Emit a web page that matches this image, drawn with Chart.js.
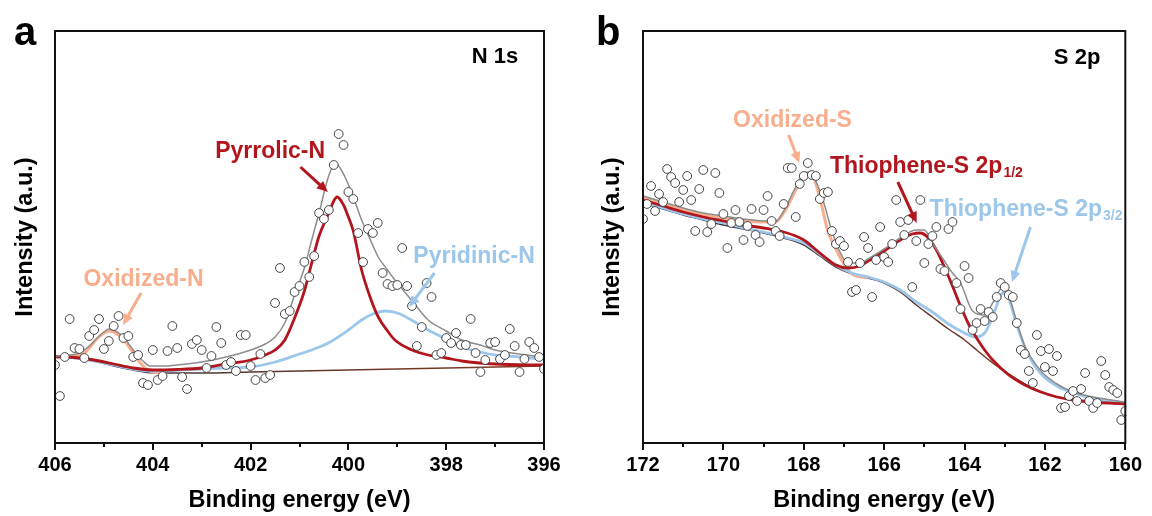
<!DOCTYPE html>
<html>
<head>
<meta charset="utf-8">
<script src="https://cdn.jsdelivr.net/npm/chart.js@4.4.1/dist/chart.umd.min.js"></script>
<style>
    html, body { margin: 0; padding: 0; background: #fff; }
    #wrap { position: relative; width: 1152px; height: 516px; }
    .panel { position: absolute; top: 0; width: 576px; height: 516px; }
    #pa { left: 0; }
    #pb { left: 576px; }
</style>
</head>
<body>
<div id="wrap">
    <div class="panel" id="pa"><canvas id="chartA" width="576" height="516"></canvas></div>
    <div class="panel" id="pb"><canvas id="chartB" width="576" height="516"></canvas></div>
</div>
<script>

// ---- N 1s (panel a) ----
// raw counts, one every 0.1 eV from 406.0 down to 396.0
const nCounts = [78, 47, 86, 124, 95, 94, 85, 107, 113, 124,
    94, 102, 117, 127, 105, 107, 86, 88, 60, 58,
    93, 63, 67, 92, 117, 95, 66, 54, 99, 103,
    93, 75, 87, 116, 100, 78, 81, 72, 108, 108,
    77, 63, 89, 65, 68, 140, 175, 129, 132, 151,
    157, 181, 166, 187, 230, 224, 233, 278, 309, 298,
    251, 244, 210, 181, 214, 210, 220, 170, 159, 157,
    158, 195, 157, 137, 97, 116, 160, 146, 88, 90,
    105, 100, 110, 98, 98, 124, 90, 71, 83, 100,
    101, 84, 88, 114, 97, 71, 84, 101, 95, 86, 74];

const nBgE = [406, 405.6, 405.2, 404.8, 404.4, 404.0, 403, 402, 401, 400, 399, 398, 397, 396];
const nBgI = [86, 85, 82, 77, 73, 70, 70, 71, 72, 73, 74, 75, 76, 77];

const nOxE = [406, 405.7, 405.5, 405.4, 405.3, 405.2, 405.1, 405.0, 404.9, 404.8, 404.7, 404.6, 404.5, 404.4, 404.3, 404.2, 404.1, 404.0, 403.8];
const nOxI = [86, 86.5, 88, 90, 95, 101, 106, 110, 112, 111, 108, 104, 97, 90, 83, 77, 73, 71, 70];

const nPyrroE = [406, 405.6, 405.2, 404.8, 404.4, 404.0, 403.5, 403.0, 402.5, 402.0, 401.7, 401.5, 401.3, 401.1, 400.9, 400.75, 400.6, 400.4, 400.3, 400.23, 400.1, 400.0, 399.9, 399.73, 399.55, 399.39, 399.2, 399.05, 398.7, 398.37, 398.0, 397.68, 397.0, 396.0];
const nPyrroI = [86.5, 85.5, 83, 79, 75, 73, 73.5, 75, 79, 83, 88, 93, 103, 125, 152, 180, 207, 230, 242, 246, 238, 226, 212, 173, 145, 126, 112, 103, 93, 88, 85, 82, 79, 78];

const nPyriE = [406, 405.6, 405.2, 404.8, 404.4, 404.0, 403.0, 402.5, 402.0, 401.5, 401.06, 400.7, 400.41, 400.0, 399.73, 399.5, 399.25, 399.0, 398.71, 398.37, 398.0, 397.68, 397.3, 397.0, 396.5, 396.0];
const nPyriI = [86.5, 85, 82, 78, 74, 72, 74, 75, 76, 81, 88, 94, 100, 113, 123, 129, 132, 130, 123, 113, 104, 96, 91, 88, 86, 84];

const nEnvE = [406, 405.7, 405.5, 405.3, 405.1, 405.0, 404.9, 404.8, 404.6, 404.4, 404.2, 404.06, 403.8, 403.5, 403.0, 402.5, 402.0, 401.7, 401.5, 401.3, 401.1, 400.9, 400.75, 400.6, 400.41, 400.27, 400.07, 399.9, 399.73, 399.55, 399.39, 399.2, 399.05, 398.71, 398.37, 398.0, 397.68, 397.3, 397.0, 396.5, 396.0];
const nEnvI = [86.5, 88, 90, 97, 107, 111, 114, 113, 106, 93, 82, 77, 77, 78, 81, 86, 93, 99, 106, 120, 148, 175, 203, 230, 266, 280, 266, 246, 223, 203, 186, 173, 163, 143, 123, 112, 103, 98, 93, 89, 86];

// ---- S 2p (panel b) ----
// raw counts, one every 0.1 eV from 172.0 down to 160.0
const sCounts = [224, 239, 257, 232, 249, 241, 274, 266, 260, 241,
    253, 267, 243, 212, 254, 273, 211, 219, 270, 250,
    229, 195, 220, 233, 221, 203, 217, 234, 208, 201,
    233, 247, 222, 212, 207, 239, 275, 275, 226, 259,
    267, 280, 268, 267, 244, 250, 251, 212, 199, 202,
    197, 181, 151, 153, 180, 206, 195, 146, 183, 216,
    186, 181, 199, 243, 221, 208, 223, 156, 202, 243,
    180, 199, 207, 216, 174, 172, 214, 221, 160, 134,
    177, 165, 113, 120, 134, 122, 131, 126, 146, 160,
    156, 148, 146, 120, 93, 89, 72, 60, 108, 92,
    76, 94, 72, 87, 35, 36, 47, 52, 42, 54,
    70, 42, 35, 40, 82, 68, 56, 53, 50, 23, 32];

const sBgE = [172, 171.5, 171, 170.5, 170, 169.5, 169, 168.5, 168, 167.6, 167.2, 166.8, 166.4, 166.0, 165.6, 165.2, 164.8, 164.4, 164.0, 163.7, 163.3, 162.9, 162.5, 162.1, 161.7, 161.3, 160.8, 160];
const sBgI = [240, 234, 228, 223, 218, 214, 210, 205, 198, 187, 176, 169, 165, 160, 151, 138, 126, 114, 103, 93, 80, 69, 59, 51, 46, 43, 41, 39];

const sOxE = [172, 171.5, 171, 170.5, 170, 169.5, 169, 168.7, 168.5, 168.3, 168.1, 168.0, 167.9, 167.75, 167.6, 167.4, 167.2, 167.0, 166.8, 166.4];
const sOxI = [245, 239, 233, 228, 225, 222, 221, 221, 230, 245, 261, 267, 269, 265, 245, 212, 194, 179, 169, 165];

const sHalfE = [172, 171.5, 171, 170.5, 170, 169.5, 169, 168.5, 168.2, 168.0, 167.6, 167.2, 166.9, 166.6, 166.4, 166.0, 165.6, 165.3, 165.1, 164.9, 164.7, 164.5, 164.3, 164.1, 163.9, 163.7, 163.5, 163.3, 162.9, 162.5, 162.1, 161.7, 161.3, 160.8, 160.0];
const sHalfI = [243, 237, 231, 226, 222, 218, 215, 211, 207, 203, 190, 178, 175, 177, 182, 192, 203, 209, 210, 205, 193, 176, 157, 137, 119, 105, 93, 83, 68, 58, 51, 46, 43, 41, 39];

const sThreeE = [172, 171.5, 171, 170.5, 170, 169.5, 169, 168.5, 168, 167.6, 167.2, 166.8, 166.4, 166.0, 165.6, 165.2, 164.8, 164.4, 164.0, 163.75, 163.5, 163.3, 163.15, 163.05, 162.9, 162.7, 162.5, 162.3, 162.07, 161.66, 161.26, 160.85, 160.0];
const sThreeI = [241, 235, 229, 224, 220, 215, 211, 206, 200, 189, 178, 170, 166, 161, 153, 141, 131, 119, 110, 106, 110, 126, 143, 150, 144, 118, 96, 80, 68, 56, 50, 45, 40];

const sEnvE = [172, 171.5, 171, 170.5, 170, 169.5, 169, 168.7, 168.5, 168.3, 168.1, 168.0, 167.85, 167.7, 167.5, 167.3, 167.1, 166.9, 166.6, 166.4, 166.0, 165.6, 165.2, 165.0, 164.8, 164.5, 164.3, 164.1, 163.8, 163.5, 163.3, 163.06, 162.9, 162.7, 162.5, 162.1, 161.7, 161.3, 160.8, 160.0];
const sEnvI = [247, 241, 235, 230, 227, 224, 222, 222, 232, 248, 264, 270, 271, 262, 240, 212, 191, 180, 180, 184, 194, 205, 213, 213, 200, 182, 170, 160, 132, 128, 140, 155, 147, 121, 97, 72, 59, 51, 46, 41];

const RED = '#b3151d';
const BLUE = '#9cc6ea';
const SALMON = '#f8ae8c';
const GRAY = '#8c8c8c';
const FONT = "'Liberation Sans', Arial, sans-serif";

function pts(xs, ys){
    return xs.map((x, i) => ({ x: x, y: ys[i] }));
}

function grid(start, counts){
    return counts.map((c, i) => ({ x: +(start - i * 0.1).toFixed(1), y: c }));
}

function bgColor(ctx){
    const area = ctx.chart.chartArea;
    if(!area) return '#6b3a2a';
    const g = ctx.chart.ctx.createLinearGradient(area.left, 0, area.right, 0);
    g.addColorStop(0, '#2f3d58');
    g.addColorStop(0.3, '#4d3636');
    g.addColorStop(1, '#8a3a1c');
    return g;
}

function curve(data, color, width, order){
    return {
        data: data,
        showLine: true,
        borderColor: color,
        borderWidth: width,
        pointRadius: 0,
        cubicInterpolationMode: 'monotone',
        order: order,
        clip: 1
    };
}

// frame + bottom ticks (long at labelled values, short in between)
const framePlugin = {
    id: 'frame',
    afterDatasetsDraw(chart){
        const c = chart.ctx;
        const a = chart.chartArea;
        const xs = chart.scales.x;
        c.save();
        c.strokeStyle = '#111';
        c.lineWidth = 2;
        c.strokeRect(a.left, a.top, a.right - a.left, a.bottom - a.top);
        c.beginPath();
        xs.ticks.forEach(t => {
            const px = Math.round(xs.getPixelForValue(t.value));
            const len = Math.round(t.value) % 2 === 0 ? 7 : 4;
            c.moveTo(px, a.bottom);
            c.lineTo(px, a.bottom + len);
        });
        c.stroke();
        c.restore();
    }
};

function arrow(c, x0, y0, x1, y1, color){
    const ang = Math.atan2(y1 - y0, x1 - x0);
    const head = 11;
    c.save();
    c.strokeStyle = color;
    c.fillStyle = color;
    c.lineWidth = 3;
    c.beginPath();
    c.moveTo(x0, y0);
    c.lineTo(x1 - Math.cos(ang) * head * 0.8, y1 - Math.sin(ang) * head * 0.8);
    c.stroke();
    c.beginPath();
    c.moveTo(x1, y1);
    c.lineTo(x1 - head * Math.cos(ang) + 5 * Math.sin(ang), y1 - head * Math.sin(ang) - 5 * Math.cos(ang));
    c.lineTo(x1 - head * Math.cos(ang) - 5 * Math.sin(ang), y1 - head * Math.sin(ang) + 5 * Math.cos(ang));
    c.closePath();
    c.fill();
    c.restore();
}

const notesPlugin = {
    id: 'notes',
    afterDraw(chart, args, opts){
        const c = chart.ctx;
        const xs = chart.scales.x, ys = chart.scales.y;
        c.save();
        c.textBaseline = 'alphabetic';
        c.textAlign = 'left';
        c.fillStyle = '#000';
        c.font = 'bold 40px ' + FONT;
        c.fillText(opts.letter, opts.letterX, 45);

        (opts.labels || []).forEach(l => {
            const px = xs.getPixelForValue(l.e);
            const py = ys.getPixelForValue(l.i);
            c.font = 'bold ' + l.size + 'px ' + FONT;
            c.fillStyle = l.color;
            c.textBaseline = 'middle';
            c.textAlign = l.align || 'center';
            c.fillText(l.text, px, py);
            if(l.sub){
                const w = c.measureText(l.text).width;
                c.font = 'bold 14px ' + FONT;
                c.textAlign = 'left';
                c.fillText(l.sub, px + w + 1, py + 6);
            }
        });

        (opts.arrows || []).forEach(r => {
            arrow(c, xs.getPixelForValue(r.from[0]), ys.getPixelForValue(r.from[1]),
                xs.getPixelForValue(r.to[0]), ys.getPixelForValue(r.to[1]), r.color);
        });
        c.restore();
    }
};

function makeChart(id, o){
    return new Chart(document.getElementById(id), {
        type: 'scatter',
        data: { datasets: o.datasets },
        options: {
            responsive: false,
            animation: false,
            events: [],
            layout: { padding: { left: 0, right: o.padRight, top: 31, bottom: 0 } },
            plugins: {
                legend: { display: false },
                tooltip: { enabled: false },
                notes: o.notes
            },
            scales: {
                x: {
                    type: 'linear',
                    reverse: true,
                    min: o.min,
                    max: o.max,
                    afterFit: s => { s.height = 73; },
                    grid: { display: false, drawTicks: false },
                    border: { display: false },
                    ticks: {
                        stepSize: 1,
                        autoSkip: false,
                        maxRotation: 0,
                        padding: 10,
                        color: '#000',
                        font: { family: FONT, size: 20, weight: 'bold' },
                        callback: v => Math.round(v) % 2 === 0 ? String(Math.round(v)) : ''
                    },
                    title: {
                        display: true,
                        text: 'Binding energy (eV)',
                        color: '#000',
                        font: { family: FONT, size: 23.5, weight: 'bold' },
                        padding: { top: 0, bottom: 1 }
                    }
                },
                y: {
                    min: 0,
                    max: 412,
                    afterFit: s => { s.width = o.left; },
                    grid: { display: false, drawTicks: false },
                    border: { display: false },
                    ticks: { display: false },
                    title: {
                        display: true,
                        text: 'Intensity (a.u.)',
                        color: '#000',
                        font: { family: FONT, size: 23.5, weight: 'bold' },
                        padding: { top: o.titlePad, bottom: 0 }
                    }
                }
            }
        },
        plugins: [framePlugin, notesPlugin]
    });
}

function pointSet(data){
    return {
        data: data,
        pointRadius: 4.4,
        pointBackgroundColor: '#fff',
        pointBorderColor: '#444',
        pointBorderWidth: 1,
        showLine: false,
        order: 0,
        clip: 1
    };
}

document.addEventListener("DOMContentLoaded", function () {

    makeChart('chartA', {
        min: 396, max: 406, left: 55, padRight: 32, titlePad: 11,
        datasets: [
            pointSet(grid(406, nCounts)),
            curve(pts(nEnvE, nEnvI), GRAY, 1.5, 1),
            curve(pts(nPyrroE, nPyrroI), RED, 2.8, 2),
            curve(pts(nPyriE, nPyriI), BLUE, 2.8, 3),
            curve(pts(nOxE, nOxI), SALMON, 3, 4),
            curve(pts(nBgE, nBgI), bgColor, 1.5, 5)
        ],
        notes: {
            letter: 'a', letterX: 14,
            labels: [
                { text: 'N 1s', e: 397.0, i: 386, size: 22, color: '#000' },
                { text: 'Pyrrolic-N', e: 401.6, i: 291, size: 23, color: RED },
                { text: 'Pyridinic-N', e: 397.43, i: 186, size: 23, color: BLUE },
                { text: 'Oxidized-N', e: 404.19, i: 163, size: 23, color: SALMON }
            ],
            arrows: [
                { from: [400.98, 276], to: [400.42, 251], color: RED },
                { from: [398.24, 170], to: [398.76, 136], color: BLUE },
                { from: [404.24, 150], to: [404.61, 118], color: SALMON }
            ]
        }
    });

    makeChart('chartB', {
        min: 160, max: 172, left: 67, padRight: 19, titlePad: 22,
        datasets: [
            pointSet(grid(172, sCounts)),
            curve(pts(sEnvE, sEnvI), GRAY, 1.5, 1),
            curve(pts(sHalfE, sHalfI), RED, 2.8, 2),
            curve(pts(sThreeE, sThreeI), BLUE, 2.8, 3),
            curve(pts(sOxE, sOxI), SALMON, 3, 4),
            curve(pts(sBgE, sBgI), bgColor, 1.5, 5)
        ],
        notes: {
            letter: 'b', letterX: 20,
            labels: [
                { text: 'S 2p', e: 161.2, i: 385, size: 22, color: '#000' },
                { text: 'Oxidized-S', e: 168.28, i: 322, size: 23, color: SALMON },
                { text: 'Thiophene-S 2p', sub: '1/2', e: 167.35, i: 276, size: 23, color: RED, align: 'left' },
                { text: 'Thiophene-S 2p', sub: '3/2', e: 164.87, i: 233, size: 23, color: BLUE, align: 'left' }
            ],
            arrows: [
                { from: [168.38, 308], to: [168.11, 280], color: SALMON },
                { from: [165.66, 261], to: [165.19, 220], color: RED },
                { from: [162.36, 216], to: [162.82, 161], color: BLUE }
            ]
        }
    });

});
</script>
</body>
</html>
